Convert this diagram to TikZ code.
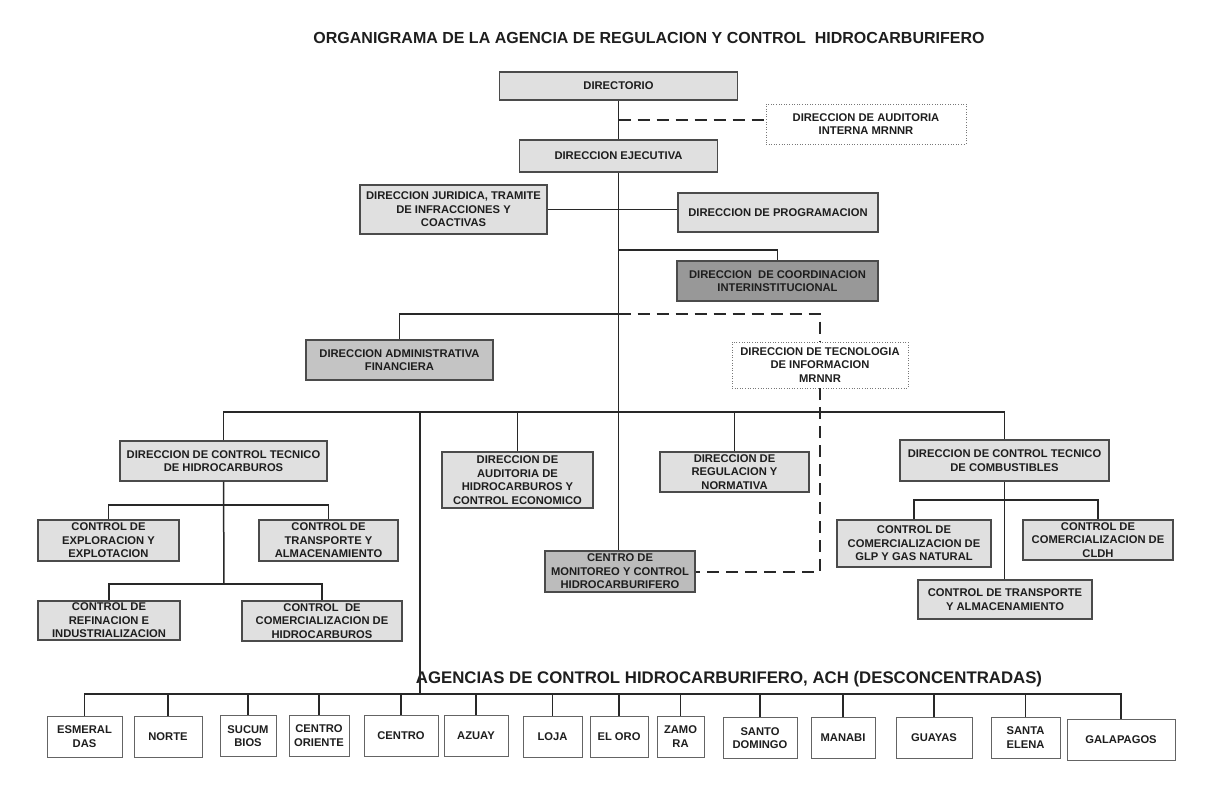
\documentclass[tikz,border=0pt]{standalone}
\usepackage{fontspec}
\setmainfont{Liberation Sans}
\definecolor{txt}{RGB}{30,30,30}
\definecolor{lnc}{RGB}{40,40,40}
\definecolor{bord}{RGB}{75,75,75}
\definecolor{fillA}{RGB}{224,224,224}
\definecolor{fillB}{RGB}{196,196,196}
\definecolor{fillC}{RGB}{188,188,188}
\definecolor{fillD}{RGB}{152,152,152}
\definecolor{agb}{RGB}{100,100,100}
\definecolor{dotb}{RGB}{120,120,120}
\tikzset{
  sz/.style 2 args={minimum width=#1pt, minimum height=#2pt},
  box/.style={draw=bord, line width=1.1pt, fill=fillA, align=center, inner sep=0pt, text=txt,
    font=\fontsize{11.2}{13.5}\selectfont\bfseries},
  dotbox/.style={box, draw=dotb, fill=white, line width=0.9pt, dash pattern=on 1pt off 1.6pt},
  agbox/.style={box, draw=agb, fill=white, line width=0.9pt},
  ln/.style={draw=lnc, line width=1.5pt},
  dl/.style={draw=lnc, line width=1.8pt, dash pattern=on 12pt off 7pt},
}
\begin{document}
\begin{tikzpicture}[x=1pt,y=-1pt]
\useasboundingbox (0,0) rectangle (1223,801);
\fill[white] (0,0) rectangle (1223,801);

\node[text=txt, font=\fontsize{16}{19}\selectfont\bfseries] (title) at (649,37.5)
  {ORGANIGRAMA DE LA AGENCIA DE REGULACION Y CONTROL\ \ HIDROCARBURIFERO};

\node[box, sz={238}{28}] (dir) at (618.5,86) {DIRECTORIO};
\node[dotbox, sz={200}{40}] (aud) at (866,124) {DIRECCION DE AUDITORIA\\INTERNA MRNNR};
\node[box, sz={198}{32}] (eje) at (618.5,156) {DIRECCION EJECUTIVA};
\node[box, sz={187}{49}] (jur) at (453.5,209.5) {DIRECCION JURIDICA, TRAMITE\\DE INFRACCIONES Y\\COACTIVAS};
\node[box, sz={200}{39}] (prog) at (778,212.5) {DIRECCION DE PROGRAMACION};
\node[box, fill=fillD, sz={201}{40}] (coord) at (777.5,281) {DIRECCION\ \ DE COORDINACION\\INTERINSTITUCIONAL};
\node[box, fill=fillB, sz={187}{40}] (adm) at (399.5,360) {DIRECCION ADMINISTRATIVA\\FINANCIERA};
\node[dotbox, sz={176}{46}] (tec) at (820,365) {DIRECCION DE TECNOLOGIA\\DE INFORMACION\\MRNNR};

\node[box, sz={207}{40}] (cth) at (223.5,461) {DIRECCION DE CONTROL TECNICO\\DE HIDROCARBUROS};
\node[box, sz={151}{56}] (aue) at (517.5,480) {DIRECCION DE\\AUDITORIA DE\\HIDROCARBUROS Y\\CONTROL ECONOMICO};
\node[box, sz={149}{40}] (reg) at (734.5,472) {DIRECCION DE\\REGULACION Y\\NORMATIVA};
\node[box, fill=fillC, sz={150}{41}] (mon) at (620,571.5) {CENTRO DE\\MONITOREO Y CONTROL\\HIDROCARBURIFERO};
\node[box, sz={209}{41}] (comb) at (1004.5,460.5) {DIRECCION DE CONTROL TECNICO\\DE COMBUSTIBLES};

\node[box, sz={141}{41}] (exp) at (108.5,540.5) {CONTROL DE\\EXPLORACION Y\\EXPLOTACION};
\node[box, sz={139}{41}] (tra) at (328.5,540.5) {CONTROL DE\\TRANSPORTE Y\\ALMACENAMIENTO};
\node[box, sz={142}{39}] (ref) at (109,620.5) {CONTROL DE\\REFINACION E\\INDUSTRIALIZACION};
\node[box, sz={160}{40}] (comh) at (322,621) {CONTROL\ \ DE\\COMERCIALIZACION DE\\HIDROCARBUROS};

\node[box, sz={154}{47}] (glp) at (914,543.5) {CONTROL DE\\COMERCIALIZACION DE\\GLP Y GAS NATURAL};
\node[box, sz={150}{40}] (cldh) at (1098,540) {CONTROL DE\\COMERCIALIZACION DE\\CLDH};
\node[box, sz={174}{39}] (trc) at (1005,599.5) {CONTROL DE TRANSPORTE\\Y ALMACENAMIENTO};

\node[text=txt, font=\fontsize{16.8}{20}\selectfont\bfseries] (agt) at (729,679)
  {AGENCIAS DE CONTROL HIDROCARBURIFERO, ACH (DESCONCENTRADAS)};

\node[agbox, sz={75}{41}] (a1) at (84.5,736.5) {ESMERAL\\DAS};
\node[agbox, sz={68}{41}] (a2) at (168,737) {NORTE};
\node[agbox, sz={56}{41}] (a3) at (248,736) {SUCUM\\BIOS};
\node[agbox, sz={60}{41}] (a4) at (319,735.5) {CENTRO\\ORIENTE};
\node[agbox, sz={74}{41}] (a5) at (401,736) {CENTRO};
\node[agbox, sz={64}{41}] (a6) at (476,736) {AZUAY};
\node[agbox, sz={59}{41}] (a7) at (552.5,736.5) {LOJA};
\node[agbox, sz={58}{41}] (a8) at (619,736.5) {EL ORO};
\node[agbox, sz={47}{41}] (a9) at (680.5,736.5) {ZAMO\\RA};
\node[agbox, sz={74}{41}] (a10) at (760,738) {SANTO\\DOMINGO};
\node[agbox, sz={64}{41}] (a11) at (843,738) {MANABI};
\node[agbox, sz={76}{41}] (a12) at (934,738) {GUAYAS};
\node[agbox, sz={69}{41}] (a13) at (1025.5,737.5) {SANTA\\ELENA};
\node[agbox, sz={108}{41}] (a14) at (1121,740) {GALAPAGOS};

% main spine
\draw[ln] (dir.south) -- (eje.north);
\draw[ln] (eje.south) -- (eje.south |- mon.north);
\coordinate (j1) at (618.5,120);
\draw[dl] (j1) -- (j1 -| aud.west);
\draw[ln] (jur.east) -- (jur.east -| prog.west);
\coordinate (c1) at (618.5,250);
\draw[ln] (c1) -| (coord.north);
\coordinate (c2) at (618.5,314);
\draw[ln] (c2) -| (adm.north);
\draw[dl] (c2) -| (tec.north);
\coordinate (c3) at (820,572);
\draw[dl] (tec.south) -- (c3) -- (c3 -| mon.east);

% level bar
\coordinate (h1) at (224,412);
\draw[ln] (cth.north) |- (comb.north |- h1) -- (comb.north);
\draw[ln] (aue.north) -- (aue.north |- h1);
\draw[ln] (reg.north) -- (reg.north |- h1);
\coordinate (v1) at (420,412);
\coordinate (v2) at (420,694);
\draw[ln] (v1) -- (v2);

% hidrocarburos subtree
\coordinate (b1) at (224,505);
\coordinate (b2) at (224,584);
\draw[ln] (cth.south) -- (b2);
\draw[ln] (exp.north) |- (b1) -| (tra.north);
\draw[ln] (ref.north) |- (b2) -| (comh.north);

% combustibles subtree
\coordinate (b3) at (1004.5,500);
\draw[ln] (comb.south) -- (comb.south |- trc.north);
\draw[ln] (glp.north) |- (b3) -| (cldh.north);

% agencies
\draw[ln] (a1.north) |- (a14.north |- v2) -- (a14.north);
\foreach \k in {2,...,13} { \draw[ln] (a\k.north) -- (a\k.north |- v2); }
\end{tikzpicture}
\end{document}
